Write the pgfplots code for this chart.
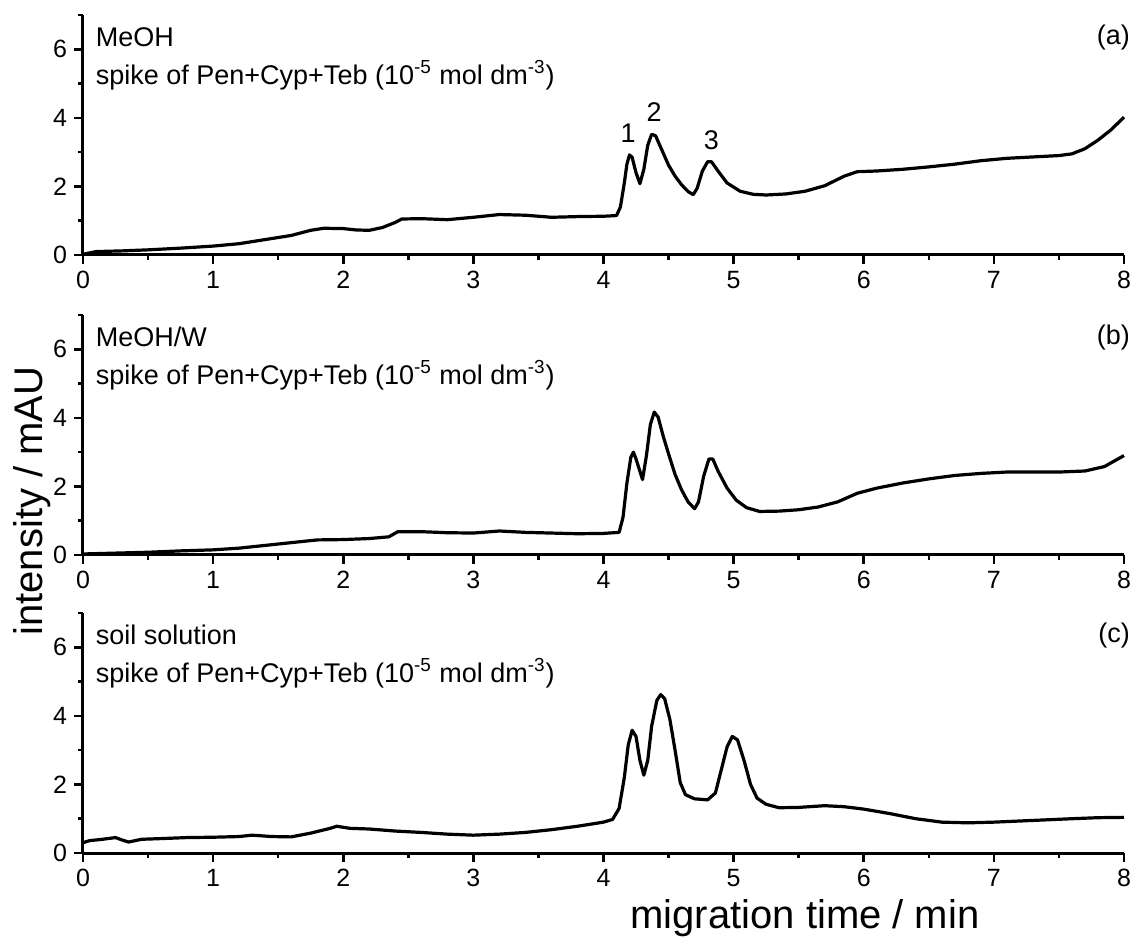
\documentclass[border=0pt]{standalone}
\usepackage{fontspec}
\setmainfont{Liberation Sans}
\usepackage{pgfplots}
\pgfplotsset{compat=1.18}
\usepackage{pgfplotstable}

% traces
\pgfplotstableread{
x y
0.00 0.02
0.05 0.06
0.10 0.10
0.30 0.12
0.50 0.15
0.75 0.20
1.00 0.26
1.20 0.33
1.40 0.45
1.60 0.57
1.75 0.72
1.85 0.78
2.00 0.77
2.10 0.73
2.20 0.72
2.30 0.80
2.40 0.95
2.45 1.05
2.60 1.06
2.80 1.03
3.00 1.10
3.20 1.18
3.40 1.16
3.60 1.10
3.80 1.12
4.00 1.13
4.10 1.15
4.13 1.40
4.16 2.10
4.18 2.65
4.20 2.92
4.22 2.85
4.25 2.40
4.28 2.08
4.31 2.50
4.34 3.20
4.37 3.52
4.40 3.48
4.45 3.05
4.50 2.62
4.55 2.30
4.60 2.05
4.65 1.85
4.69 1.76
4.72 1.95
4.76 2.45
4.80 2.72
4.83 2.72
4.88 2.45
4.95 2.10
5.05 1.86
5.15 1.77
5.25 1.75
5.40 1.78
5.55 1.86
5.70 2.02
5.85 2.30
5.95 2.43
6.10 2.45
6.30 2.50
6.50 2.57
6.70 2.65
6.90 2.75
7.10 2.82
7.30 2.86
7.50 2.90
7.60 2.95
7.70 3.10
7.80 3.35
7.90 3.65
8.00 4.02
}\meoh

\pgfplotstableread{
x y
0.00 0.03
0.20 0.05
0.50 0.08
0.75 0.12
1.00 0.15
1.20 0.20
1.40 0.28
1.60 0.36
1.80 0.44
2.00 0.45
2.20 0.48
2.35 0.53
2.42 0.68
2.60 0.68
2.80 0.65
3.00 0.64
3.20 0.70
3.40 0.66
3.60 0.64
3.80 0.62
4.00 0.63
4.12 0.66
4.15 1.10
4.18 2.10
4.21 2.85
4.23 3.00
4.25 2.80
4.30 2.20
4.33 2.90
4.36 3.80
4.39 4.17
4.42 4.02
4.46 3.45
4.50 2.95
4.55 2.35
4.60 1.90
4.65 1.55
4.70 1.35
4.73 1.55
4.77 2.30
4.81 2.80
4.84 2.80
4.88 2.45
4.95 1.95
5.02 1.60
5.10 1.38
5.20 1.27
5.35 1.28
5.50 1.32
5.65 1.40
5.80 1.55
5.95 1.80
6.10 1.95
6.30 2.10
6.50 2.22
6.70 2.32
6.90 2.38
7.10 2.42
7.30 2.42
7.50 2.42
7.70 2.45
7.85 2.58
8.00 2.90
}\meohw

\pgfplotstableread{
x y
0.00 0.30
0.05 0.36
0.15 0.40
0.25 0.45
0.30 0.38
0.35 0.32
0.45 0.40
0.60 0.42
0.80 0.45
1.00 0.46
1.20 0.48
1.30 0.52
1.45 0.48
1.60 0.47
1.75 0.58
1.90 0.72
1.95 0.78
2.05 0.72
2.20 0.70
2.40 0.64
2.60 0.60
2.80 0.55
3.00 0.52
3.20 0.55
3.40 0.60
3.60 0.68
3.80 0.78
4.00 0.90
4.07 0.98
4.12 1.30
4.16 2.20
4.19 3.15
4.22 3.58
4.25 3.40
4.28 2.70
4.31 2.27
4.34 2.70
4.37 3.70
4.41 4.45
4.44 4.62
4.47 4.50
4.51 3.90
4.55 3.00
4.59 2.05
4.63 1.70
4.70 1.58
4.80 1.55
4.86 1.75
4.91 2.50
4.95 3.10
4.99 3.40
5.03 3.30
5.08 2.70
5.13 2.00
5.18 1.60
5.25 1.42
5.35 1.32
5.50 1.33
5.70 1.38
5.85 1.35
6.00 1.28
6.20 1.15
6.40 1.00
6.60 0.90
6.80 0.88
7.00 0.90
7.30 0.95
7.60 1.00
7.80 1.03
8.00 1.04
}\soil

\pgfplotsset{
  panel/.style={
    width=520.5pt, height=120pt, scale only axis,
    anchor=south west,
    xmin=0, xmax=8, ymin=0, ymax=7,
    xtick={0,...,8}, ytick={0,2,4,6},
    minor xtick={0.5,1.5,...,7.5}, minor ytick={1,3,5,7},
    axis x line=bottom, axis y line=left,
    axis line style={-, line width=1.5pt},
    tick align=outside,
    major tick length=4.5pt, minor tick length=2.5pt,
    every tick/.style={line width=1.3pt, black},
    ticklabel style={font=\fontsize{12.5}{14}\selectfont},
    /pgf/number format/assume math mode=true,
    clip=false,
  },
  trace/.style={black, line width=1.6pt, line join=round},
}
\tikzset{txt/.style={font=\fontsize{13.5}{15}\selectfont, inner sep=0pt}}
\newcommand{\spike}{spike of Pen+Cyp+Teb (10\textsuperscript{-5} mol dm\textsuperscript{-3})}

\begin{document}
\begin{tikzpicture}
\path[use as bounding box] (0,0) rectangle (568.5pt,469.5pt);

\begin{axis}[panel, at={(41.5pt,342pt)}]
\addplot[trace] table {\meoh};
\node[txt, anchor=west] at (rel axis cs:0.012,0.908) {MeOH};
\node[txt, anchor=west] at (rel axis cs:0.012,0.75) {\spike};
\node[txt, anchor=east] at (rel axis cs:1.006,0.908) {(a)};
\node[txt] at (axis cs:4.19,3.56) {1};
\node[txt] at (axis cs:4.39,4.17) {2};
\node[txt] at (axis cs:4.83,3.35) {3};
\end{axis}

\begin{axis}[panel, at={(41.5pt,192pt)}]
\addplot[trace] table {\meohw};
\node[txt, anchor=west] at (rel axis cs:0.012,0.908) {MeOH/W};
\node[txt, anchor=west] at (rel axis cs:0.012,0.75) {\spike};
\node[txt, anchor=east] at (rel axis cs:1.006,0.908) {(b)};
\end{axis}

\begin{axis}[panel, at={(41.5pt,43pt)}]
\addplot[trace] table {\soil};
\node[txt, anchor=west] at (rel axis cs:0.012,0.908) {soil solution};
\node[txt, anchor=west] at (rel axis cs:0.012,0.75) {\spike};
\node[txt, anchor=east] at (rel axis cs:1.006,0.908) {(c)};
\end{axis}

\node[font=\fontsize{20}{24}\selectfont, rotate=90] at (16pt,219pt) {intensity / mAU};
\node[font=\fontsize{20}{24}\selectfont] at (402.5pt,10.5pt) {migration time / min};
\end{tikzpicture}
\end{document}
